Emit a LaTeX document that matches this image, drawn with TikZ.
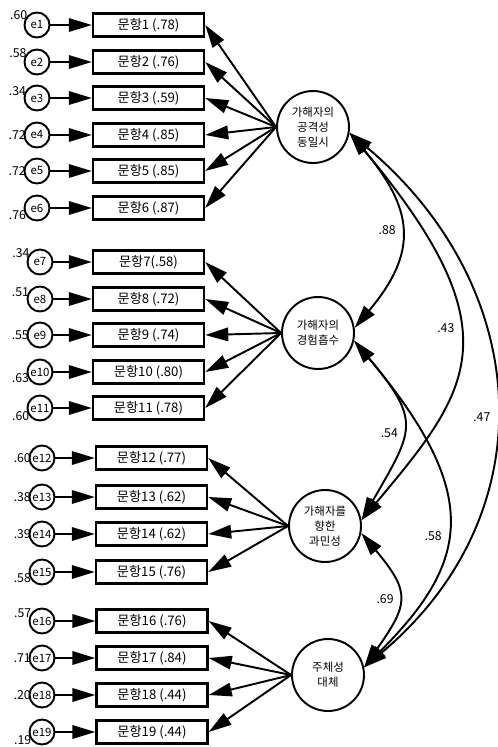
\documentclass[tikz,border=0pt]{standalone}
\usepackage{fontspec}
\setmainfont{Noto Sans CJK KR}
\usetikzlibrary{arrows.meta}

\tikzset{
  item/.style={draw, line width=1.4pt, minimum width=2.22cm, minimum height=0.46cm, inner sep=0pt, font=\fontsize{7.5}{9}\selectfont},
  err/.style={draw, circle, line width=1.1pt, minimum size=0.5cm, inner sep=0pt, font=\fontsize{6.5}{7}\selectfont},
  evar/.style={font=\fontsize{7}{8}\selectfont, inner sep=0pt, label distance=-1.5pt},
  factor/.style={draw, circle, line width=1.1pt, minimum size=1.44cm, inner sep=0pt, align=center, font=\fontsize{6.5}{8.5}\selectfont},
  load/.style={-{Triangle[length=0.46cm,width=0.27cm]}, line width=1.1pt},
  cov/.style={{Triangle[length=0.46cm,width=0.27cm]}-{Triangle[length=0.46cm,width=0.27cm]}, line width=1.1pt},
  coef/.style={font=\fontsize{7}{8}\selectfont, inner sep=2pt}
}

\begin{document}
\begin{tikzpicture}[x=0.02cm,y=-0.02cm]
\useasboundingbox (0,0) rectangle (497,747);

\node[factor] (F1) at (313,127) {가해자의\\공격성\\동일시};
\node[factor] (F2) at (318,333) {가해자의\\경험흡수};
\node[factor] (F3) at (325,526) {가해자를\\향한\\과민성};
\node[factor] (F4) at (328,675) {주체성\\대체};

\node[item] (b1) at (148.5,25) {문항1 (.78)};
\node[item] (b2) at (148.5,62) {문항2 (.76)};
\node[item] (b3) at (148.5,98) {문항3 (.59)};
\node[item] (b4) at (148.5,135) {문항4 (.85)};
\node[item] (b5) at (148.5,171) {문항5 (.85)};
\node[item] (b6) at (148.5,208) {문항6 (.87)};
\node[item] (b7) at (148.5,262) {문항7(.58)};
\node[item] (b8) at (148.5,299) {문항8 (.72)};
\node[item] (b9) at (148.5,335) {문항9 (.74)};
\node[item] (b10) at (148.5,372) {문항10 (.80)};
\node[item] (b11) at (148.5,408) {문항11 (.78)};
\node[item] (b12) at (151.5,458) {문항12 (.77)};
\node[item] (b13) at (151.5,497) {문항13 (.62)};
\node[item] (b14) at (151.5,534) {문항14 (.62)};
\node[item] (b15) at (151.5,572) {문항15 (.76)};
\node[item] (b16) at (152,621) {문항16 (.76)};
\node[item] (b17) at (152,658) {문항17 (.84)};
\node[item] (b18) at (152,695) {문항18 (.44)};
\node[item] (b19) at (152,732) {문항19 (.44)};

\node[err, label={[evar]150:.60}] (e1) at (37,25) {e1};
\node[err, label={[evar]160:.58}] (e2) at (37,62) {e2};
\node[err, label={[evar]168:.34}] (e3) at (37,98) {e3};
\node[err, label={[evar]180:.72}] (e4) at (37,135) {e4};
\node[err, label={[evar]180:.72}] (e5) at (37,171) {e5};
\node[err, label={[evar]190:.76}] (e6) at (37,208) {e6};
\node[err, label={[evar]160:.34}] (e7) at (40,262) {e7};
\node[err, label={[evar]170:.51}] (e8) at (40,299) {e8};
\node[err, label={[evar]180:.55}] (e9) at (40,335) {e9};
\node[err, label={[evar]188:.63}] (e10) at (40,372) {e10};
\node[err, label={[evar]195:.60}] (e11) at (40,408) {e11};
\node[err, label={[evar]180:.60}] (e12) at (42,458) {e12};
\node[err, label={[evar]180:.38}] (e13) at (42,497) {e13};
\node[err, label={[evar]180:.39}] (e14) at (42,534) {e14};
\node[err, label={[evar]185:.58}] (e15) at (42,572) {e15};
\node[err, label={[evar]165:.57}] (e16) at (42,621) {e16};
\node[err, label={[evar]180:.71}] (e17) at (42,658) {e17};
\node[err, label={[evar]180:.20}] (e18) at (42,695) {e18};
\node[err, label={[evar]195:.19}] (e19) at (42,732) {e19};

\draw[load] (e1) -- (b1);
\draw[load] (e2) -- (b2);
\draw[load] (e3) -- (b3);
\draw[load] (e4) -- (b4);
\draw[load] (e5) -- (b5);
\draw[load] (e6) -- (b6);
\draw[load] (e7) -- (b7);
\draw[load] (e8) -- (b8);
\draw[load] (e9) -- (b9);
\draw[load] (e10) -- (b10);
\draw[load] (e11) -- (b11);
\draw[load] (e12) -- (b12);
\draw[load] (e13) -- (b13);
\draw[load] (e14) -- (b14);
\draw[load] (e15) -- (b15);
\draw[load] (e16) -- (b16);
\draw[load] (e17) -- (b17);
\draw[load] (e18) -- (b18);
\draw[load] (e19) -- (b19);

\draw[load] (F1.west) -- (b1.east);
\draw[load] (F1.west) -- (b2.east);
\draw[load] (F1.west) -- (b3.east);
\draw[load] (F1.west) -- (b4.east);
\draw[load] (F1.west) -- (b5.east);
\draw[load] (F1.west) -- (b6.east);
\draw[load] (F2.west) -- (b7.east);
\draw[load] (F2.west) -- (b8.east);
\draw[load] (F2.west) -- (b9.east);
\draw[load] (F2.west) -- (b10.east);
\draw[load] (F2.west) -- (b11.east);
\draw[load] (F3.west) -- (b12.east);
\draw[load] (F3.west) -- (b13.east);
\draw[load] (F3.west) -- (b14.east);
\draw[load] (F3.west) -- (b15.east);
\draw[load] (F4.west) -- (b16.east);
\draw[load] (F4.west) -- (b17.east);
\draw[load] (F4.west) -- (b18.east);
\draw[load] (F4.west) -- (b19.east);

\draw[cov] (F1.-9) .. controls +(-50:2cm) and +(50:2cm) .. node[coef,left,pos=0.5]{.88} (F2.8);
\draw[cov] (F1.-9) .. controls +(-50:5.2cm) and +(50:3.4cm) .. node[coef,left,pos=0.43]{.43} (F3.9);
\draw[cov] (F1.-9) .. controls +(-40:4.8cm) and +(40:4.8cm) .. node[coef,left,pos=0.53]{.47} (F4.12);
\draw[cov] (F2.-12) .. controls +(-50:2.1cm) and +(60:2.1cm) .. node[coef,left,pos=0.55]{.54} (F3.9);
\draw[cov] (F2.-12) .. controls +(-50:4cm) and +(45:3cm) .. node[coef,left,pos=0.55]{.58} (F4.12);
\draw[cov] (F3.-11) .. controls +(-50:1.55cm) and +(55:1.55cm) .. node[coef,left,pos=0.5]{.69} (F4.12);
\end{tikzpicture}
\end{document}
